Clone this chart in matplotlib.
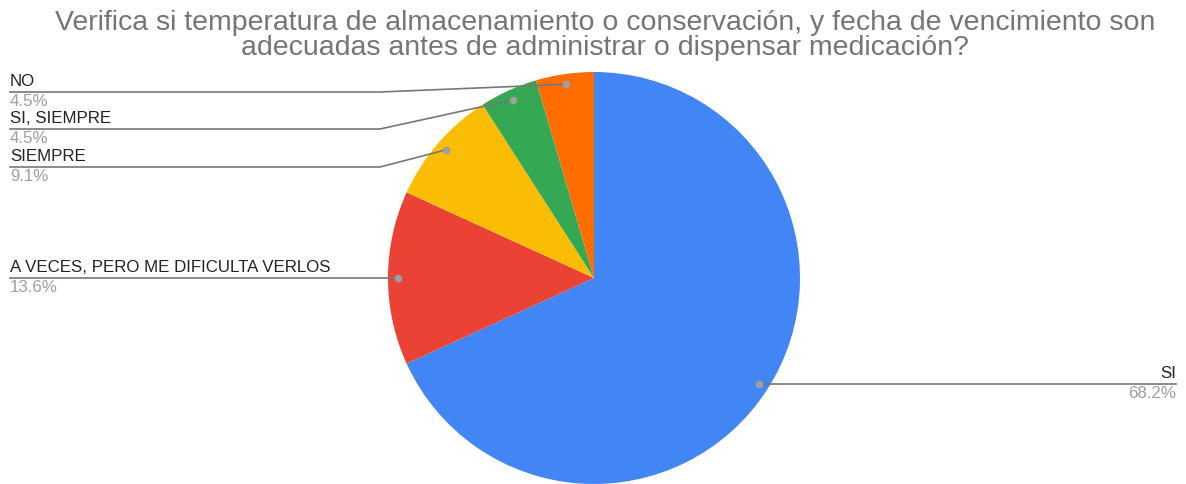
import numpy as np
import matplotlib.pyplot as plt

# -----------------------------
# Data
# -----------------------------
labels = ["SI", "A VECES, PERO ME DIFICULTA VERLOS", "SIEMPRE", "SI, SIEMPRE", "NO"]
counts = [15, 3, 2, 1, 1]
pct_text = ["68.2%", "13.6%", "9.1%", "4.5%", "4.5%"]
colors = ["#4285F4", "#EA4335", "#FBBC04", "#34A853", "#FF6D01"]

title_lines = [
    "Verifica si temperatura de almacenamiento o conservación, y fecha de vencimiento son",
    "adecuadas antes de administrar o dispensar medicación?",
]

plt.rcParams["font.family"] = ["Liberation Sans", "DejaVu Sans"]

W, H = 1186, 484
fig = plt.figure(figsize=(W / 100, H / 100), dpi=100)
ax = fig.add_axes([0, 0, 1, 1])

# pie centre / radius in pixel units (y measured from bottom)
cx, cy, r = 594, H - 278, 206

wedges, _ = ax.pie(counts, colors=colors, startangle=90, counterclock=False,
                   center=(cx, cy), radius=r, frame=True,
                   wedgeprops=dict(linewidth=0))
ax.set_xlim(0, W)
ax.set_ylim(0, H)
ax.axis("off")

# -----------------------------
# Leader lines and labels
# -----------------------------
line_col = "#777777"
fs = 12.2
# y (from top) of the horizontal leader segment for each slice
line_y = [384, 278, 167, 129, 92]

for i, w in enumerate(wedges):
    mid = np.deg2rad((w.theta1 + w.theta2) / 2)
    px = cx + 0.95 * r * np.cos(mid)
    py = cy + 0.95 * r * np.sin(mid)
    ly = H - line_y[i]
    ax.plot(px, py, "o", color="#9e9e9e", ms=4.5, zorder=5)
    if i == 0:
        ax.plot([px, 1176], [ly, ly], color=line_col, lw=1.2, zorder=4)
        tx, ha = 1176, "right"
    else:
        ax.plot([px, 380, 10], [py, ly, ly], color=line_col, lw=1.2, zorder=4)
        tx, ha = 10, "left"
    ax.text(tx, ly + 6, labels[i], ha=ha, va="baseline",
            fontsize=fs, color="#222222")
    ax.text(tx, ly - 14, pct_text[i], ha=ha, va="baseline",
            fontsize=fs, color="#9e9e9e")

# -----------------------------
# Title
# -----------------------------
for k, line in enumerate(title_lines):
    ax.text(605, H - 30 - 25 * k, line, ha="center", va="baseline",
            fontsize=20.5, color="#757575")

fig.savefig("out.png", dpi=100)
